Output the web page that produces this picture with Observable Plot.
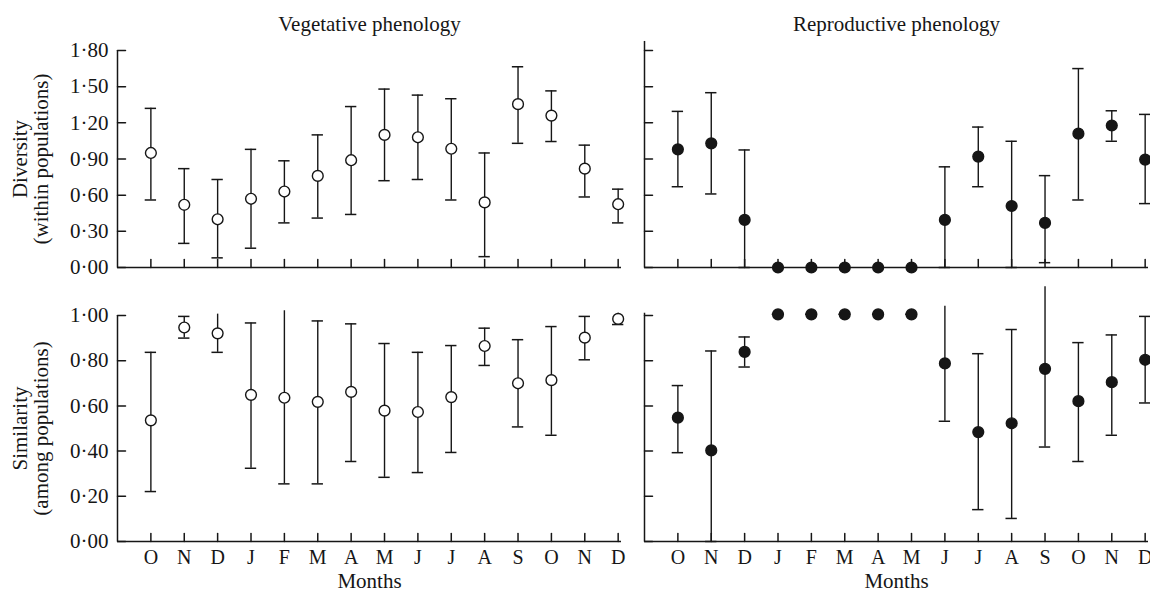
<!DOCTYPE html>
<html><head><meta charset="utf-8">
<script src="https://cdn.jsdelivr.net/npm/d3@7"></script>
<script src="https://cdn.jsdelivr.net/npm/@observablehq/plot@0.6"></script>
<style>
body{margin:0;background:#fff;}
#c{position:relative;width:1150px;height:598px;background:#fff;overflow:hidden;}
#c svg{position:absolute;}
</style></head><body><div id="c"></div>
<script>
// ---- data ----
const months = ["O","N","D","J","F","M","A","M","J","J","A","S","O","N","D"];

const vegDivMean = [0.95, 0.52, 0.40, 0.57, 0.63, 0.76, 0.89, 1.10, 1.08, 0.985, 0.54, 1.355, 1.26, 0.82, 0.525];
const vegDivLow  = [0.56, 0.20, 0.08, 0.16, 0.37, 0.41, 0.44, 0.72, 0.73, 0.56, 0.09, 1.03, 1.045, 0.585, 0.37];
const vegDivHigh = [1.32, 0.82, 0.73, 0.98, 0.885, 1.10, 1.335, 1.48, 1.43, 1.40, 0.95, 1.665, 1.465, 1.015, 0.65];

const repDivMean = [0.98, 1.03, 0.395, 0, 0, 0, 0, 0, 0.395, 0.92, 0.51, 0.37, 1.11, 1.178, 0.895];
const repDivLow  = [0.67, 0.61, 0, null, null, null, null, null, 0, 0.67, 0, 0.04, 0.56, 1.047, 0.53];
const repDivHigh = [1.295, 1.45, 0.975, null, null, null, null, null, 0.835, 1.165, 1.047, 0.762, 1.65, 1.30, 1.27];

const vegSimMean = [0.536, 0.947, 0.921, 0.649, 0.636, 0.618, 0.662, 0.579, 0.573, 0.639, 0.865, 0.70, 0.714, 0.902, 0.985];
const vegSimLow  = [0.221, 0.90, 0.837, 0.324, 0.255, 0.255, 0.354, 0.284, 0.305, 0.394, 0.779, 0.507, 0.47, 0.804, 0.96];
const vegSimHigh = [0.837, 0.996, 1.006, 0.967, 1.021, 0.976, 0.963, 0.876, 0.837, 0.867, 0.944, 0.893, 0.951, 0.996, 1.01];

const repSimMean = [0.548, 0.403, 0.839, 1.005, 1.005, 1.005, 1.005, 1.005, 0.788, 0.484, 0.523, 0.764, 0.621, 0.705, 0.804];
const repSimLow  = [0.393, 0, 0.772, 1.005, 1.005, 1.005, 1.005, 1.005, 0.532, 0.141, 0.102, 0.418, 0.354, 0.47, 0.613];
const repSimHigh = [0.69, 0.843, 0.905, 1.005, 1.005, 1.005, 1.005, 1.005, 1.041, 0.831, 0.938, 1.127, 0.88, 0.914, 0.996];

const divTicks = [0, 0.3, 0.6, 0.9, 1.2, 1.5, 1.8];
const simTicks = [0, 0.2, 0.4, 0.6, 0.8, 1.0];
const panelTitles = ["Vegetative phenology", "Reproductive phenology"];
const yTitles = ["Diversity\n(within populations)", "Similarity\n(among populations)"];
const xTitle = "Months";

// ---- drawing ----
const INK = "#161616";
const FONT = "'Liberation Serif', 'Times New Roman', serif";
const fmt = v => v.toFixed(2).replace(".", "\u00B7");
const tickShape = {draw(ctx, l) { ctx.moveTo(0, 0); ctx.lineTo(0, -l); }};
const idx = d3.range(months.length);

function panel(o) {
  const data = idx.map(i => ({i, v: o.mean[i], lo: o.low[i], hi: o.high[i]}));
  const bars = data.filter(d => d.lo != null);
  const cw = 0.17;
  const marks = [
    Plot.ruleX([-1], {x: d => d, y1: 0, y2: o.axisTop, stroke: INK, strokeWidth: 1.5}),
    Plot.ruleY([0], {y: d => d, x1: -1, x2: 14.1, stroke: INK, strokeWidth: 1.5}),
    Plot.vector(o.yTicks, {x: -1, y: d => d, length: 8, rotate: 90, anchor: "start", shape: tickShape, stroke: INK, fill: "none", strokeWidth: 1.5}),
    Plot.vector(idx, {x: d => d, y: 0, length: 8, rotate: 0, anchor: "start", shape: tickShape, stroke: INK, fill: "none", strokeWidth: 1.5}),
    Plot.ruleX(bars, {x: "i", y1: "lo", y2: "hi", stroke: INK, strokeWidth: 1.4}),
    Plot.ruleY(bars.filter(d => d.hi <= o.axisTop), {y: "hi", x1: d => d.i - cw, x2: d => d.i + cw, stroke: INK, strokeWidth: 1.5}),
    Plot.ruleY(bars, {y: "lo", x1: d => d.i - cw, x2: d => d.i + cw, stroke: INK, strokeWidth: 1.5}),
    Plot.dot(data, {x: "i", y: "v", r: 5.4, fill: o.filled ? INK : "white", stroke: INK, strokeWidth: 1.4})
  ];
  if (o.yLabels) {
    marks.push(Plot.text(o.yTicks, {x: -1, y: d => d, text: d => fmt(d), textAnchor: "end", dx: -9, fontSize: 21, fill: INK}));
    marks.push(Plot.text([o.yTitle], {frameAnchor: "left", text: d => d, rotate: -90, dx: -87, textAnchor: "middle", lineAnchor: "middle", lineHeight: 1.0, fontSize: 21, fill: INK}));
  }
  if (o.title) {
    marks.push(Plot.text([o.title], {frameAnchor: "top", text: d => d, dy: -34, fontSize: 21, fill: INK}));
  }
  if (o.xLabels) {
    marks.push(Plot.text(idx, {x: d => d, y: 0, text: i => months[i], dy: 16, fontSize: 20, fill: INK}));
    marks.push(Plot.text([xTitle], {frameAnchor: "bottom", text: d => d, dy: 46, fontSize: 21, fill: INK}));
  }
  const svg = Plot.plot({
    width: o.width, height: o.height,
    marginLeft: o.ml, marginRight: o.mr, marginTop: o.mt, marginBottom: o.mb,
    x: {domain: [-1, 14.1], axis: null},
    y: {domain: o.domain, axis: null},
    style: {fontFamily: FONT, background: "transparent", overflow: "visible"},
    marks
  });
  svg.style.left = o.left + "px";
  svg.style.top = o.top + "px";
  document.getElementById("c").appendChild(svg);
}

const rowTop = {height: 280, mt: 50, mb: 13, top: 0, domain: [0, 1.8], yTicks: divTicks};
const rowBot = {height: 318, mt: 35, mb: 57, top: 280, domain: [0, 1.0], yTicks: simTicks};
const colL = {width: 630, ml: 117, mr: 9, left: 0, yLabels: true};
const colR = {width: 520, ml: 14, mr: 2, left: 630, yLabels: false};

panel({...rowTop, ...colL, mean: vegDivMean, low: vegDivLow, high: vegDivHigh, filled: false, axisTop: 1.8, title: panelTitles[0], yTitle: yTitles[0]});
panel({...rowTop, ...colR, mean: repDivMean, low: repDivLow, high: repDivHigh, filled: true, axisTop: 1.875, title: panelTitles[1]});
panel({...rowBot, ...colL, mean: vegSimMean, low: vegSimLow, high: vegSimHigh, filled: false, axisTop: 1.0, xLabels: true, yTitle: yTitles[1]});
panel({...rowBot, ...colR, mean: repSimMean, low: repSimLow, high: repSimHigh, filled: true, axisTop: 1.01, xLabels: true});
</script>
</body></html>
